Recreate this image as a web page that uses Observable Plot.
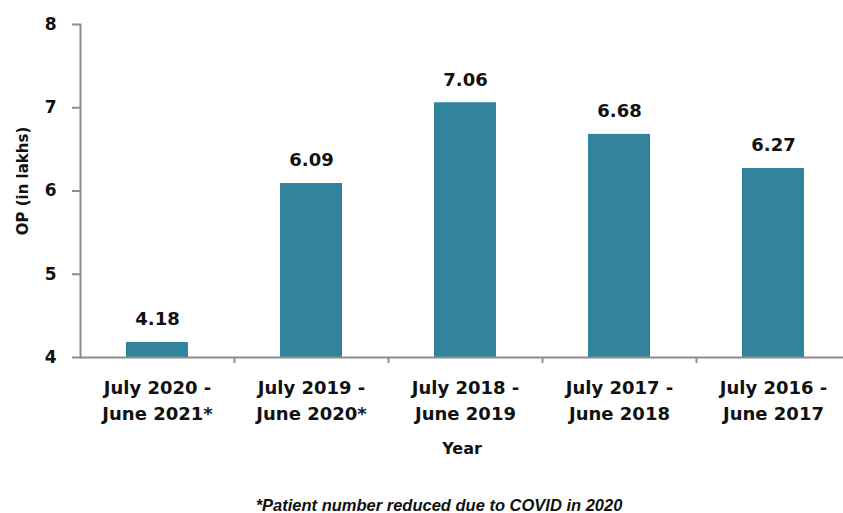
<!DOCTYPE html>
<html>
<head>
<meta charset="utf-8">
<script src="https://cdn.jsdelivr.net/npm/d3@7"></script>
<script src="https://cdn.jsdelivr.net/npm/@observablehq/plot@0.6"></script>
<style>
  html, body { margin: 0; padding: 0; background: #fff; }
</style>
</head>
<body>
<div id="chart"></div>
<script>
const categories = [
  "July 2020 -\nJune 2021*",
  "July 2019 -\nJune 2020*",
  "July 2018 -\nJune 2019",
  "July 2017 -\nJune 2018",
  "July 2016 -\nJune 2017"
];
const values = [4.18, 6.09, 7.06, 6.68, 6.27];
const yTicks = [4, 5, 6, 7, 8];
const footnote = "*Patient number reduced due to COVID in 2020";

const data = categories.map((c, i) => ({category: c, value: values[i]}));

const axisColor = "#8c8c8c";
const barColor = "#31849B";
const font = "DejaVu Sans, Verdana, sans-serif";

const chart = Plot.plot({
  width: 843,
  height: 513,
  marginTop: 24,
  marginBottom: 156,
  marginLeft: 80,
  marginRight: 0,
  style: {fontFamily: font, background: "#fff"},
  x: {domain: categories, range: [80, 850], paddingInner: 0.6, paddingOuter: 0.3, align: 0.5, label: null},
  y: {domain: [4, 8], label: null},
  marks: [
    Plot.barY(data, {x: "category", y1: 4, y2: "value", fill: barColor}),
    Plot.text(data, {x: "category", y: "value", text: d => d.value.toFixed(2), dy: -23,
      fontSize: 18, fontWeight: "bold", fill: "#111", fontFamily: font}),
    Plot.frame({anchor: "left", stroke: axisColor, strokeWidth: 2}),
    Plot.ruleY([4], {stroke: axisColor, strokeWidth: 2}),
    Plot.ruleX(categories.slice(1), {x: d => d, dx: -77, y1: 4, y2: 4, insetBottom: -6, stroke: axisColor, strokeWidth: 2}),
    Plot.axisY({ticks: yTicks, tickSize: 8, tickPadding: 16, stroke: axisColor, strokeWidth: 2,
      fontSize: 17, fontWeight: "bold", fill: "#111", tickFormat: d => String(d), label: null}),
    Plot.axisX({tickSize: 0, tickPadding: 18, fontSize: 18, fontWeight: "bold", fill: "#111",
      lineHeight: 1.45, label: null}),
    Plot.text(["OP (in lakhs)"], {frameAnchor: "left", textAnchor: "middle", rotate: -90, dx: -57, dy: -10,
      fontSize: 15, fontWeight: "bold", fill: "#111", fontFamily: font}),
    Plot.text(["Year"], {frameAnchor: "bottom", dy: 96, fontSize: 16, fontWeight: "bold",
      fill: "#111", fontFamily: font}),
    Plot.text([footnote], {frameAnchor: "bottom", dy: 153, dx: -23, fontSize: 16.5, fontWeight: "bold",
      fontStyle: "italic", fill: "#111", fontFamily: "Liberation Sans, Arial, sans-serif"})
  ]
});
document.getElementById("chart").appendChild(chart);
</script>
</body>
</html>
